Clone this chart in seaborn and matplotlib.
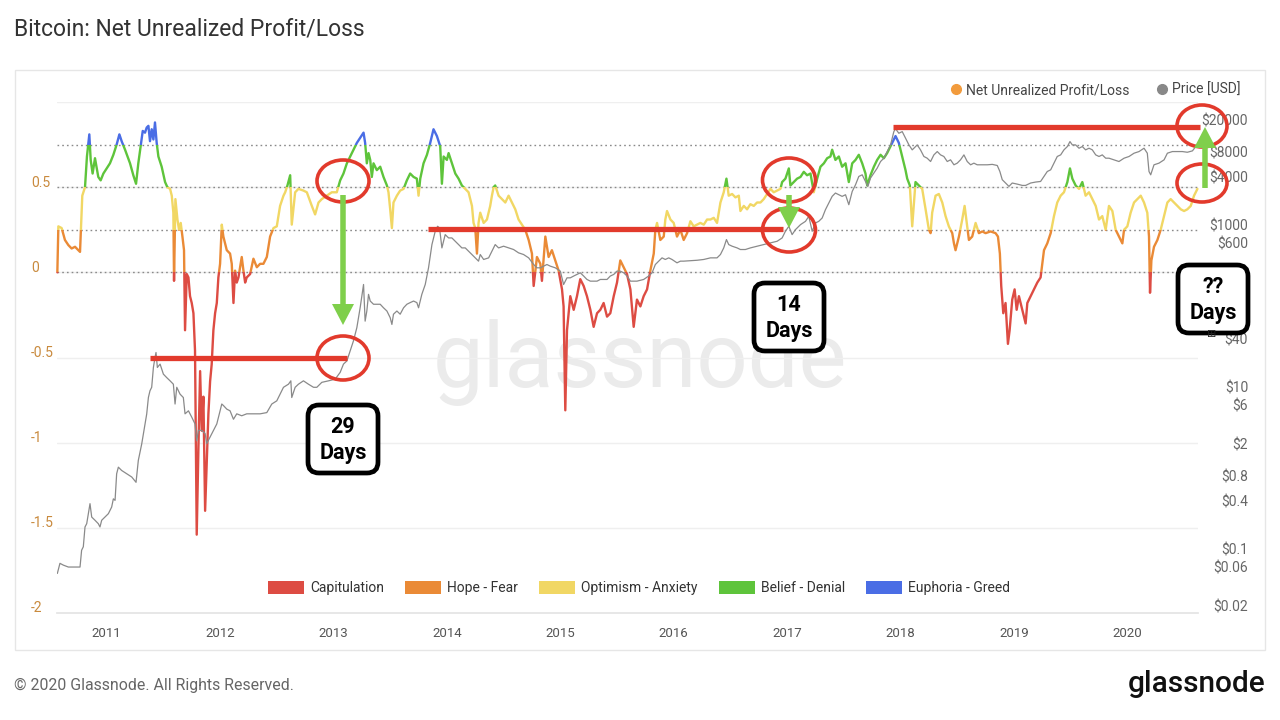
import matplotlib
matplotlib.use("Agg")
import matplotlib.pyplot as plt
import matplotlib.transforms as mtransforms
from matplotlib.patches import Rectangle, Ellipse, FancyArrow, FancyBboxPatch, Patch
from matplotlib.lines import Line2D
import seaborn as sns

# ---- values ----
nupl_year = [
    2010.565, 2010.574, 2010.603, 2010.632, 2010.662, 2010.691, 2010.721, 2010.750, 2010.765, 2010.785,
    2010.809, 2010.826, 2010.847, 2010.859, 2010.876, 2010.897, 2010.926, 2010.947, 2010.971, 2011.000,
    2011.029, 2011.059, 2011.088, 2011.112, 2011.132, 2011.162, 2011.206, 2011.235, 2011.259, 2011.279,
    2011.300, 2011.318, 2011.338, 2011.353, 2011.368, 2011.382, 2011.397, 2011.412, 2011.426, 2011.441,
    2011.456, 2011.485, 2011.515, 2011.535, 2011.559, 2011.574, 2011.588, 2011.594, 2011.606, 2011.624,
    2011.638, 2011.653, 2011.668, 2011.682, 2011.691, 2011.706, 2011.721, 2011.735, 2011.750, 2011.765,
    2011.779, 2011.794, 2011.809, 2011.824, 2011.838, 2011.853, 2011.868, 2011.882, 2011.897, 2011.912,
    2011.926, 2011.941, 2011.956, 2011.971, 2011.985, 2012.000, 2012.015, 2012.029, 2012.044, 2012.059,
    2012.088, 2012.103, 2012.118, 2012.132, 2012.147, 2012.162, 2012.191, 2012.206, 2012.221, 2012.235,
    2012.265, 2012.294, 2012.324, 2012.353, 2012.382, 2012.412, 2012.441, 2012.471, 2012.500, 2012.529,
    2012.559, 2012.574, 2012.594, 2012.618, 2012.632, 2012.662, 2012.691, 2012.735, 2012.765, 2012.809,
    2012.838, 2012.868, 2012.897, 2012.941, 2012.985, 2013.029, 2013.059, 2013.088, 2013.118, 2013.147,
    2013.176, 2013.206, 2013.235, 2013.265, 2013.279, 2013.294, 2013.309, 2013.324, 2013.338, 2013.353,
    2013.382, 2013.412, 2013.441, 2013.471, 2013.485, 2013.500, 2013.515, 2013.529, 2013.559, 2013.588,
    2013.618, 2013.647, 2013.676, 2013.706, 2013.735, 2013.750, 2013.765, 2013.794, 2013.824, 2013.853,
    2013.882, 2013.912, 2013.941, 2013.956, 2013.971, 2014.000, 2014.015, 2014.044, 2014.074, 2014.103,
    2014.132, 2014.162, 2014.191, 2014.221, 2014.235, 2014.250, 2014.265, 2014.279, 2014.294, 2014.324,
    2014.353, 2014.382, 2014.397, 2014.412, 2014.426, 2014.456, 2014.485, 2014.515, 2014.544, 2014.574,
    2014.603, 2014.632, 2014.662, 2014.691, 2014.721, 2014.750, 2014.765, 2014.794, 2014.824, 2014.838,
    2014.868, 2014.897, 2014.926, 2014.956, 2014.985, 2015.015, 2015.029, 2015.044, 2015.059, 2015.088,
    2015.118, 2015.147, 2015.176, 2015.206, 2015.235, 2015.265, 2015.294, 2015.324, 2015.353, 2015.382,
    2015.412, 2015.441, 2015.471, 2015.500, 2015.529, 2015.559, 2015.588, 2015.618, 2015.647, 2015.676,
    2015.706, 2015.735, 2015.765, 2015.794, 2015.824, 2015.838, 2015.853, 2015.882, 2015.912, 2015.926,
    2015.941, 2015.971, 2016.000, 2016.029, 2016.059, 2016.088, 2016.118, 2016.147, 2016.176, 2016.206,
    2016.235, 2016.265, 2016.294, 2016.324, 2016.353, 2016.382, 2016.397, 2016.412, 2016.441, 2016.465,
    2016.485, 2016.515, 2016.544, 2016.574, 2016.588, 2016.618, 2016.647, 2016.676, 2016.706, 2016.735,
    2016.765, 2016.794, 2016.824, 2016.853, 2016.882, 2016.912, 2016.941, 2016.956, 2016.985, 2017.015,
    2017.029, 2017.059, 2017.088, 2017.118, 2017.147, 2017.176, 2017.206, 2017.235, 2017.265, 2017.294,
    2017.324, 2017.353, 2017.382, 2017.397, 2017.426, 2017.456, 2017.485, 2017.515, 2017.544, 2017.574,
    2017.603, 2017.632, 2017.662, 2017.691, 2017.706, 2017.735, 2017.765, 2017.794, 2017.824, 2017.853,
    2017.882, 2017.912, 2017.941, 2017.956, 2017.985, 2018.015, 2018.044, 2018.059, 2018.082, 2018.103,
    2018.132, 2018.162, 2018.191, 2018.221, 2018.250, 2018.265, 2018.279, 2018.309, 2018.338, 2018.368,
    2018.397, 2018.426, 2018.456, 2018.471, 2018.485, 2018.515, 2018.544, 2018.565, 2018.588, 2018.603,
    2018.632, 2018.662, 2018.691, 2018.721, 2018.750, 2018.794, 2018.838, 2018.859, 2018.876, 2018.888,
    2018.906, 2018.926, 2018.947, 2018.962, 2018.985, 2019.006, 2019.024, 2019.044, 2019.074, 2019.103,
    2019.118, 2019.147, 2019.176, 2019.206, 2019.235, 2019.265, 2019.294, 2019.324, 2019.353, 2019.382,
    2019.412, 2019.441, 2019.471, 2019.494, 2019.515, 2019.544, 2019.574, 2019.603, 2019.632, 2019.662,
    2019.691, 2019.721, 2019.750, 2019.779, 2019.809, 2019.838, 2019.868, 2019.897, 2019.926, 2019.956,
    2019.971, 2020.000, 2020.029, 2020.059, 2020.088, 2020.118, 2020.147, 2020.176, 2020.191, 2020.200,
    2020.212, 2020.235, 2020.265, 2020.294, 2020.324, 2020.353, 2020.382, 2020.412, 2020.441, 2020.471,
    2020.500, 2020.529, 2020.559, 2020.588, 2020.618,
]
nupl_value = [
    0.00, 0.27, 0.26, 0.19, 0.16, 0.14, 0.15, 0.13, 0.12, 0.45,
    0.50, 0.68, 0.81, 0.66, 0.58, 0.67, 0.56, 0.54, 0.58, 0.61,
    0.64, 0.69, 0.75, 0.81, 0.77, 0.72, 0.64, 0.57, 0.52, 0.64,
    0.74, 0.83, 0.82, 0.85, 0.86, 0.77, 0.84, 0.78, 0.88, 0.76,
    0.68, 0.62, 0.53, 0.50, 0.49, 0.45, 0.35, -0.05, 0.43, 0.31,
    0.25, 0.29, 0.21, 0.13, -0.34, -0.01, -0.03, -0.14, -0.18, -0.24,
    -0.46, -1.54, -1.03, -0.58, -0.93, -0.73, -1.40, -1.13, -0.83, -0.64,
    -0.54, -0.34, -0.24, -0.18, -0.03, 0.05, 0.28, 0.21, 0.17, 0.13,
    0.11, 0.05, -0.18, 0.01, -0.06, -0.03, 0.09, 0.01, -0.06, -0.03,
    -0.01, 0.08, 0.03, 0.05, 0.05, 0.09, 0.21, 0.26, 0.27, 0.39,
    0.45, 0.47, 0.51, 0.57, 0.28, 0.47, 0.49, 0.48, 0.47, 0.39,
    0.34, 0.41, 0.43, 0.45, 0.47, 0.47, 0.54, 0.58, 0.64, 0.68,
    0.72, 0.76, 0.79, 0.82, 0.76, 0.64, 0.70, 0.66, 0.56, 0.64,
    0.60, 0.62, 0.56, 0.51, 0.47, 0.37, 0.26, 0.41, 0.45, 0.48,
    0.49, 0.54, 0.58, 0.56, 0.55, 0.45, 0.55, 0.64, 0.69, 0.76,
    0.84, 0.80, 0.74, 0.52, 0.68, 0.66, 0.70, 0.64, 0.58, 0.55,
    0.51, 0.49, 0.47, 0.39, 0.29, 0.26, 0.11, 0.29, 0.35, 0.29,
    0.31, 0.39, 0.45, 0.50, 0.51, 0.45, 0.43, 0.41, 0.45, 0.41,
    0.37, 0.31, 0.28, 0.25, 0.19, 0.11, -0.08, 0.09, 0.05, -0.05,
    0.21, 0.09, 0.13, 0.07, 0.01, -0.10, -0.20, -0.81, -0.34, -0.14,
    -0.22, -0.14, -0.04, -0.08, -0.14, -0.22, -0.32, -0.24, -0.22, -0.18,
    -0.26, -0.24, -0.14, -0.06, 0.07, 0.03, -0.01, -0.10, -0.32, -0.16,
    -0.20, -0.14, -0.10, 0.01, 0.11, 0.25, 0.29, 0.19, 0.21, 0.31,
    0.36, 0.31, 0.29, 0.21, 0.25, 0.19, 0.23, 0.30, 0.27, 0.28,
    0.29, 0.28, 0.31, 0.31, 0.32, 0.29, 0.35, 0.41, 0.47, 0.55,
    0.45, 0.46, 0.44, 0.45, 0.36, 0.39, 0.37, 0.40, 0.39, 0.41,
    0.41, 0.43, 0.46, 0.49, 0.47, 0.48, 0.49, 0.53, 0.55, 0.61,
    0.51, 0.53, 0.55, 0.56, 0.59, 0.57, 0.58, 0.47, 0.55, 0.62,
    0.64, 0.67, 0.68, 0.72, 0.66, 0.68, 0.62, 0.64, 0.53, 0.64,
    0.66, 0.69, 0.64, 0.58, 0.51, 0.57, 0.62, 0.66, 0.69, 0.67,
    0.70, 0.74, 0.78, 0.80, 0.76, 0.68, 0.60, 0.55, 0.51, 0.27,
    0.53, 0.51, 0.49, 0.37, 0.25, 0.23, 0.35, 0.45, 0.46, 0.41,
    0.33, 0.27, 0.23, 0.17, 0.13, 0.21, 0.31, 0.39, 0.27, 0.19,
    0.21, 0.29, 0.23, 0.24, 0.23, 0.24, 0.23, 0.21, 0.11, -0.08,
    -0.24, -0.18, -0.42, -0.34, -0.16, -0.10, -0.22, -0.14, -0.22, -0.30,
    -0.18, -0.14, -0.10, -0.06, -0.03, 0.13, 0.17, 0.23, 0.33, 0.41,
    0.45, 0.47, 0.53, 0.61, 0.55, 0.51, 0.49, 0.53, 0.45, 0.47,
    0.43, 0.39, 0.31, 0.33, 0.25, 0.39, 0.36, 0.25, 0.21, 0.17,
    0.25, 0.27, 0.35, 0.41, 0.43, 0.45, 0.41, 0.35, 0.21, -0.12,
    0.07, 0.15, 0.19, 0.25, 0.33, 0.41, 0.43, 0.41, 0.39, 0.37,
    0.36, 0.37, 0.39, 0.45, 0.49,
]

price_year = [
    2010.565, 2010.588, 2010.618, 2010.662, 2010.706, 2010.765, 2010.779, 2010.794, 2010.809, 2010.824,
    2010.838, 2010.853, 2010.868, 2010.897, 2010.926, 2010.941, 2010.956, 2010.985, 2011.015, 2011.044,
    2011.059, 2011.074, 2011.088, 2011.103, 2011.132, 2011.176, 2011.221, 2011.259, 2011.279, 2011.309,
    2011.338, 2011.353, 2011.368, 2011.382, 2011.397, 2011.412, 2011.426, 2011.435, 2011.447, 2011.471,
    2011.500, 2011.529, 2011.559, 2011.588, 2011.603, 2011.618, 2011.647, 2011.676, 2011.691, 2011.721,
    2011.750, 2011.779, 2011.794, 2011.809, 2011.838, 2011.868, 2011.882, 2011.912, 2011.941, 2011.971,
    2012.000, 2012.015, 2012.029, 2012.059, 2012.088, 2012.118, 2012.147, 2012.191, 2012.235, 2012.294,
    2012.353, 2012.412, 2012.456, 2012.500, 2012.529, 2012.559, 2012.603, 2012.624, 2012.632, 2012.662,
    2012.691, 2012.735, 2012.779, 2012.824, 2012.853, 2012.897, 2012.956, 2013.015, 2013.059, 2013.088,
    2013.118, 2013.147, 2013.176, 2013.206, 2013.235, 2013.265, 2013.279, 2013.294, 2013.309, 2013.324,
    2013.353, 2013.382, 2013.412, 2013.441, 2013.471, 2013.500, 2013.515, 2013.529, 2013.559, 2013.588,
    2013.618, 2013.647, 2013.676, 2013.706, 2013.735, 2013.750, 2013.779, 2013.809, 2013.838, 2013.868,
    2013.897, 2013.918, 2013.935, 2013.956, 2013.985, 2014.015, 2014.044, 2014.074, 2014.103, 2014.132,
    2014.162, 2014.191, 2014.221, 2014.250, 2014.279, 2014.294, 2014.324, 2014.368, 2014.397, 2014.426,
    2014.456, 2014.500, 2014.544, 2014.588, 2014.632, 2014.676, 2014.721, 2014.765, 2014.794, 2014.824,
    2014.853, 2014.882, 2014.912, 2014.956, 2015.000, 2015.029, 2015.059, 2015.088, 2015.118, 2015.147,
    2015.176, 2015.206, 2015.235, 2015.265, 2015.294, 2015.324, 2015.353, 2015.382, 2015.412, 2015.441,
    2015.471, 2015.500, 2015.529, 2015.559, 2015.588, 2015.618, 2015.647, 2015.676, 2015.735, 2015.779,
    2015.809, 2015.838, 2015.868, 2015.897, 2015.926, 2015.956, 2015.985, 2016.029, 2016.059, 2016.088,
    2016.147, 2016.206, 2016.265, 2016.324, 2016.382, 2016.412, 2016.441, 2016.465, 2016.485, 2016.515,
    2016.559, 2016.588, 2016.632, 2016.676, 2016.735, 2016.794, 2016.853, 2016.912, 2016.956, 2016.985,
    2017.015, 2017.044, 2017.074, 2017.118, 2017.162, 2017.191, 2017.221, 2017.250, 2017.279, 2017.309,
    2017.338, 2017.368, 2017.397, 2017.426, 2017.456, 2017.485, 2017.515, 2017.544, 2017.574, 2017.603,
    2017.632, 2017.662, 2017.691, 2017.712, 2017.735, 2017.765, 2017.794, 2017.824, 2017.853, 2017.882,
    2017.912, 2017.941, 2017.956, 2017.985, 2018.015, 2018.044, 2018.074, 2018.103, 2018.118, 2018.147,
    2018.176, 2018.206, 2018.235, 2018.265, 2018.294, 2018.324, 2018.353, 2018.382, 2018.412, 2018.441,
    2018.471, 2018.500, 2018.529, 2018.559, 2018.588, 2018.618, 2018.647, 2018.676, 2018.721, 2018.765,
    2018.809, 2018.853, 2018.876, 2018.897, 2018.926, 2018.956, 2018.985, 2019.029, 2019.074, 2019.103,
    2019.147, 2019.191, 2019.235, 2019.265, 2019.294, 2019.324, 2019.353, 2019.382, 2019.412, 2019.441,
    2019.471, 2019.494, 2019.515, 2019.544, 2019.574, 2019.603, 2019.632, 2019.662, 2019.691, 2019.721,
    2019.750, 2019.779, 2019.809, 2019.838, 2019.882, 2019.926, 2019.971, 2020.015, 2020.059, 2020.103,
    2020.147, 2020.176, 2020.191, 2020.206, 2020.235, 2020.279, 2020.324, 2020.353, 2020.397, 2020.441,
    2020.485, 2020.529, 2020.574, 2020.603, 2020.624,
]
price_usd = [
    0.060, 0.080, 0.076, 0.072, 0.072, 0.072, 0.116, 0.128, 0.225, 0.247,
    0.328, 0.436, 0.298, 0.272, 0.247, 0.225, 0.272, 0.298, 0.328, 0.396,
    0.50, 0.479, 1.02, 1.23, 1.12, 1.02, 0.93, 0.80, 1.49, 2.38,
    4.20, 5.57, 8.93, 10.8, 11.9, 20.9, 27.7, 32.0, 20.9, 23.0,
    17.3, 15.7, 14.3, 13.0, 7.4, 11.9, 9.8, 8.9, 5.6, 6.1,
    5.1, 4.2, 2.6, 3.5, 3.5, 3.2, 2.4, 2.9, 3.5, 4.2,
    6.1, 7.4, 7.1, 6.4, 6.1, 4.8, 5.6, 5.3, 5.6, 5.6,
    5.6, 5.8, 7.4, 8.1, 9.8, 11.9, 13.0, 14.3, 8.9, 11.9,
    13.0, 14.3, 13.0, 11.9, 11.9, 13.7, 14.3, 15.0, 18.2, 23.0,
    25.2, 33.5, 44.5, 64.9, 114, 221, 78, 104, 167, 138,
    126, 126, 126, 114, 104, 86, 71, 95, 104, 95,
    114, 126, 132, 138, 132, 114, 167, 221, 355, 687,
    1002, 1156, 1102, 625, 912, 830, 830, 755, 687, 625,
    625, 569, 518, 471, 429, 518, 450, 471, 569, 687,
    625, 656, 625, 597, 543, 518, 471, 390, 355, 355,
    372, 390, 372, 355, 323, 221, 267, 267, 281, 294,
    308, 281, 255, 243, 243, 243, 255, 255, 255, 281,
    294, 323, 323, 308, 281, 243, 243, 243, 255, 281,
    308, 390, 429, 471, 450, 471, 450, 409, 429, 429,
    435, 440, 450, 471, 471, 518, 625, 792, 687, 656,
    625, 597, 597, 625, 656, 687, 721, 755, 830, 1002,
    1156, 912, 1052, 1211, 1330, 1534, 1002, 1270, 1330, 1462,
    1853, 2239, 2704, 2972, 2831, 2704, 2831, 2133, 3112, 3758,
    4762, 4990, 4130, 3589, 4541, 5236, 6030, 7280, 8000, 9660,
    11670, 17030, 18500, 16250, 17030, 14100, 11670, 10140, 10620, 11670,
    10140, 8400, 8000, 7280, 8790, 9660, 8790, 8400, 7280, 7640,
    6630, 6950, 7640, 8790, 7280, 6630, 6950, 6630, 6630, 6630,
    6710, 6500, 5480, 4340, 3950, 3590, 3950, 3830, 3690, 3690,
    3950, 4060, 4130, 4760, 5480, 5750, 6950, 8400, 8790, 10140,
    11140, 12830, 11670, 11670, 10620, 11140, 10140, 10620, 10140, 8790,
    8400, 8790, 8000, 8000, 7640, 7280, 8000, 8400, 9220, 9660,
    10620, 9220, 5480, 4990, 6630, 6950, 7640, 9220, 9660, 9660,
    9660, 9470, 9850, 11140, 11670,
]

zone_edges = [-5, 0, 0.25, 0.5, 0.75, 5]
zone_names = ["Capitulation", "Hope - Fear", "Optimism - Anxiety", "Belief - Denial", "Euphoria - Greed"]
zone_colors = ["#dd4c43", "#ea8a36", "#f1d764", "#5ec43b", "#4a6de5"]

year_ticks = list(range(2011, 2021))
nupl_ticks = [-2, -1.5, -1, -0.5, 0, 0.5, 1]
nupl_tick_labels = ["-2", "-1.5", "-1", "-0.5", "0", "0.5", ""]
price_ticks = [0.02, 0.06, 0.1, 0.4, 0.8, 2, 6, 10, 40, 600, 1000, 4000, 8000, 20000]

# earlier all-time highs marked on the chart
ath_levels = [27, 1070, 19300]
ath_spans = [(2011.38, 2013.12), (2013.83, 2016.96), (2017.93, 2020.64)]
box_texts = ["29\nDays", "14\nDays", "??\nDays"]

RED = "#e23a2c"
GREEN = "#7fcf4b"

sns.set_theme(style="white")
plt.rcParams["font.family"] = ["Roboto", "DejaVu Sans"]

fig = plt.figure(figsize=(12.8, 7.2), dpi=100)
fig.patch.set_facecolor("white")


def px(x, y):
    # figure pixel (from top-left) -> inches for dpi_scale_trans
    return (x / 100, (720 - y) / 100)


ax = fig.add_axes([57 / 1280, 1 - 613 / 720, (1198 - 57) / 1280, (613 - 102) / 720])
ax.patch.set_alpha(0)
ax2 = ax.twinx()
ax2.patch.set_alpha(0)

# watermark behind everything
fig.text(640 / 1280, 1 - 387 / 720, "glassnode", ha="center", va="baseline",
         fontsize=65, color="#ebebeb", zorder=-5)

# zone guide lines
for lvl in [0, 0.25, 0.5, 0.75]:
    ax.axhline(lvl, color="#8a8a8a", lw=1.0, ls=(0, (1.2, 2.2)), zorder=1)

# NUPL line, coloured by zone via clipping bands
for lo, hi, col in zip(zone_edges[:-1], zone_edges[1:], zone_colors):
    sns.lineplot(x=nupl_year, y=nupl_value, ax=ax, color=col, lw=1.7,
                 estimator=None, sort=False)
    band = Rectangle((2009, lo), 13, hi - lo, transform=ax.transData)
    ax.lines[-1].set_clip_path(band)
    ax.lines[-1].set_zorder(2)

ax.set_xlim(2010.562, 2020.623)
ax.set_ylim(-2, 1)
ax.set_yticks(nupl_ticks)
ax.set_yticklabels(nupl_tick_labels)
ax.set_xticks(year_ticks)
ax.set_xticklabels([str(y) for y in year_ticks])
ax.grid(axis="y", color="#efefef", lw=1, zorder=0)
ax.grid(axis="x", visible=False)
for s in ["top", "left", "right"]:
    ax.spines[s].set_visible(False)
ax.spines["bottom"].set_color("#e4e4e4")
ax.tick_params(axis="y", length=0, pad=18.7, labelsize=10, labelcolor="#c98a3d")
ax.tick_params(axis="x", length=6, color="#e4e4e4", pad=4, labelsize=9.5, labelcolor="#555555")
for lbl in ax.get_yticklabels():
    lbl.set_horizontalalignment("left")
ax.set_xlabel("")
ax.set_ylabel("")

# price on log axis
sns.lineplot(x=price_year, y=price_usd, ax=ax2, color="#8a8a8a", lw=0.9,
             estimator=None, sort=False)
ax2.set_yscale("log")
ax2.set_ylim(0.0195, 39500)
ax2.set_yticks(price_ticks)
ax2.set_yticklabels([f"${p:g}" for p in price_ticks])
ax2.minorticks_off()
ax2.tick_params(axis="y", length=0, pad=36, labelsize=10, labelcolor="#666666")
for lbl in ax2.get_yticklabels():
    lbl.set_horizontalalignment("right")
for s in ax2.spines.values():
    s.set_visible(False)
ax2.grid(False)
ax2.set_ylabel("")

# tick labels sit slightly above their grid lines
lift = mtransforms.ScaledTranslation(0, 0.06, fig.dpi_scale_trans)
for lbl in ax.get_yticklabels() + ax2.get_yticklabels():
    lbl.set_transform(lbl.get_transform() + lift)

# red lines at previous highs
for lvl, (x0, x1) in zip(ath_levels, ath_spans):
    ax2.hlines(lvl, x0, x1, color=RED, lw=3.8, zorder=6, clip_on=False)

# circles, arrows, boxes (figure pixel positions)
T = fig.dpi_scale_trans
for cx, cy, w, h in [(343, 181, 52, 42), (343, 358, 52, 44), (789, 180, 53, 44),
                     (789, 230, 53, 44), (1202, 126, 50, 42), (1202, 183, 50, 38)]:
    fig.add_artist(Ellipse(px(cx, cy), w / 100, h / 100, transform=T, fill=False,
                           ec=RED, lw=2.6, zorder=8))

for x, y0, y1 in [(343, 195, 325), (789, 195, 228), (1205, 188, 127)]:
    sx, sy = px(x, y0)
    fig.add_artist(FancyArrow(sx, sy, 0, -(y1 - y0) / 100, width=0.055, head_width=0.22,
                              head_length=0.21, length_includes_head=True,
                              transform=T, color=GREEN, lw=0, zorder=9))

for (x0, y0), txt in zip([(308, 405), (754, 283), (1178, 265)], box_texts):
    fig.add_artist(FancyBboxPatch(px(x0, y0 + 68), 0.70, 0.68,
                                  boxstyle="round,pad=0,rounding_size=0.11",
                                  transform=T, fc="white", ec="black", lw=3.4, zorder=9))
    tx, ty = px(x0 + 35, y0 + 35)
    fig.text(tx / 12.8, ty / 7.2, txt, ha="center", va="center", fontsize=15.5,
             fontweight="bold", color="black", linespacing=1.2, zorder=10)
fig.text(1212 / 1280, 1 - 334 / 720, "\u229e", ha="center", va="center", fontsize=8,
         family="DejaVu Sans", color="#222222", zorder=11)

# legends
top_handles = [Line2D([], [], marker="o", ls="", color="#f29b3c", ms=7),
               Line2D([], [], marker="o", ls="", color="#888888", ms=7)]
fig.legend(top_handles, ["Net Unrealized Profit/Loss", "Price [USD]"], ncol=2,
           loc="center right", bbox_to_anchor=(1253 / 1280, 1 - 90 / 720), frameon=False,
           fontsize=10, handlelength=0.8, handletextpad=0.3, columnspacing=1.95,
           labelcolor="#444444")

zone_handles = [Patch(fc=c, ec="none") for c in zone_colors]
fig.legend(zone_handles, zone_names, ncol=5, loc="center",
           bbox_to_anchor=(639 / 1280, 1 - 588 / 720), frameon=False, fontsize=10,
           handlelength=2.6, handleheight=1.1, handletextpad=0.45, columnspacing=1.5,
           labelcolor="#333333")

# frame, titles, footer
fig.add_artist(Rectangle(px(15, 650), 12.5, 5.8, transform=T, fill=False,
                         ec="#e6e6e6", lw=1, zorder=0))
fig.text(14 / 1280, 1 - 29 / 720, "Bitcoin: Net Unrealized Profit/Loss", ha="left",
         va="center", fontsize=16.5, color="#333333")
fig.text(14 / 1280, 1 - 685 / 720, "\u00a9 2020 Glassnode. All Rights Reserved.", ha="left",
         va="center", fontsize=11.4, color="#666666")
fig.text(1265 / 1280, 1 - 684 / 720, "glassnode", ha="right", va="center",
         fontsize=21.5, color="#111111", fontweight="medium")

fig.savefig("out.png", dpi=100)
